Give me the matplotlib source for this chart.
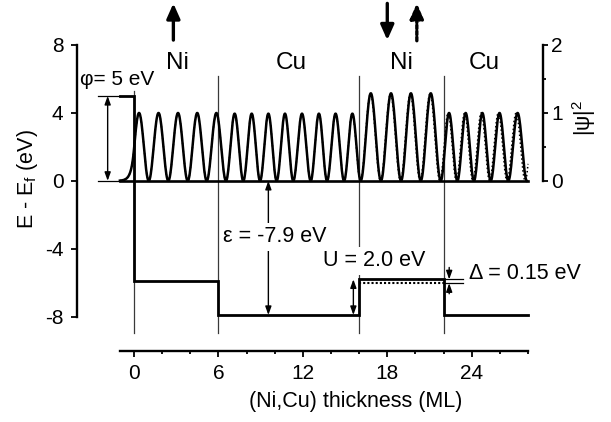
import numpy as np
import matplotlib
matplotlib.use('Agg')
import matplotlib.pyplot as plt
from matplotlib.patches import ArrowStyle

plt.rcParams['font.family'] = ['Liberation Sans', 'DejaVu Sans']
plt.rcParams['mathtext.default'] = 'regular'

# ---------------- data ----------------
layer_names = ['Ni', 'Cu', 'Ni', 'Cu']
layer_label_x = [3.1, 11.15, 19.0, 24.9]
interfaces = [0, 6, 16, 22]
interface_top = [5.3, 6.18, 6.18, 6.18]

# potential profile (thickness in ML, energy in eV)
pot_x = [-1, 0, 0, 6, 6, 16, 16, 22, 22, 28]
pot_E = [5.0, 5.0, -5.9, -5.9, -7.9, -7.9, -5.8, -5.8, -7.9, -7.9]
pot_dot_x = [16, 22]
pot_dot_E = [-6.03, -6.03]

# |psi|^2: first peak, nodes (ML) and lobe peak heights
psi_start = -1.0
psi_first_peak = 0.36
psi_nodes = [1.05, 2.44, 3.82, 5.17, 6.54, 7.77, 8.96, 10.14, 11.32, 12.56, 13.72,
             14.93, 16.11, 17.55, 18.98, 20.38, 21.80, 22.98, 24.16, 25.35, 26.60, 27.92]
psi_heights = [1.0, 1.0, 1.0, 1.0, 1.0, 0.99, 0.99, 0.99, 0.99, 0.99, 0.99, 0.99, 0.99,
               1.29, 1.29, 1.29, 1.29, 1.0, 1.0, 1.0, 1.0, 1.0]
psi_dot_nodes = [1.05, 2.44, 3.82, 5.17, 6.54, 7.77, 8.96, 10.14, 11.32, 12.56, 13.72,
                 14.93, 16.09, 17.52, 18.94, 20.33, 21.74, 22.91, 24.08, 25.27, 26.51, 27.80, 29.0]
psi_dot_heights = [1.0, 1.0, 1.0, 1.0, 1.0, 0.99, 0.99, 0.99, 0.99, 0.99, 0.99, 0.99, 0.99,
                   1.28, 1.28, 1.28, 1.28, 1.0, 1.0, 1.0, 1.0, 1.0, 1.0]
psi_end = 28.0

x_major = [0, 6, 12, 18, 24]
x_minor = [2, 4, 8, 10, 14, 16, 20, 22, 26, 28]
y_ticks = [-8, -4, 0, 4, 8]
y_ticklabels = ['-8', '-4', '0', '4', '8']
psi_ticks = [0, 1, 2]
psi_minor = [0.5, 1.5]

phi_value, eps_value, U_value, delta_value = 5.0, -7.9, 2.0, 0.15


def lobe_curve(first_peak, nodes, heights, x_end):
    a0 = 2 * first_peak - nodes[0]
    w0 = nodes[0] - a0
    th0 = np.pi * (0 - a0) / w0
    v0 = heights[0] * np.sin(th0) ** 2
    k = heights[0] * np.pi / w0 * np.sin(2 * th0) / v0
    xs = [np.linspace(psi_start, 0, 40)]
    ys = [v0 * np.exp(k * xs[0])]
    edges = [a0] + list(nodes)
    for i in range(len(nodes)):
        a, b = edges[i], edges[i + 1]
        lo = 0 if i == 0 else a
        hi = min(b, x_end)
        if hi <= lo:
            break
        x = np.linspace(lo, hi, 40)
        xs.append(x)
        ys.append(heights[i] * np.sin(np.pi * (x - a) / (b - a)) ** 2)
    return np.concatenate(xs), np.concatenate(ys)


W, H = 611, 422
fig = plt.figure(figsize=(W / 100, H / 100), dpi=100)
L, R, T, B = 76.7, 542.5, 45.0, 351.0
ax = fig.add_axes([L / W, 1 - B / H, (R - L) / W, (B - T) / H])
ax.set_xlim(-4.07, 29.03)
ax.set_ylim(-10.02, 8.0)
ax2 = ax.twinx()
ax2.set_ylim(-10.02 / 4, 2.0)

for a in (ax, ax2):
    a.patch.set_visible(False)
    for s in a.spines.values():
        s.set_visible(False)
ax.spines['left'].set_visible(True)
ax.spines['left'].set_bounds(-8, 8)
ax.spines['left'].set_linewidth(1.7)
ax.spines['bottom'].set_visible(True)
ax.spines['bottom'].set_bounds(-1, 28)
ax.spines['bottom'].set_linewidth(1.7)
ax2.spines['right'].set_visible(True)
ax2.spines['right'].set_bounds(0, 2)
ax2.spines['right'].set_linewidth(1.7)

ax.set_xticks(x_major)
ax.set_xticks(x_minor, minor=True)
ax.tick_params(axis='x', which='major', length=4.3, width=1.3, pad=5.0, labelsize=15)
ax.tick_params(axis='x', which='minor', length=2.2, width=1.3)
ax.set_yticks(y_ticks)
ax.set_yticklabels(y_ticklabels)
ax.tick_params(axis='y', which='major', length=4.0, width=1.3, pad=5.5, labelsize=15)
ax2.set_yticks(psi_ticks)
ax2.set_yticks(psi_minor, minor=True)
ax2.tick_params(axis='y', which='major', length=3.6, width=1.3, pad=2.5, labelsize=15)
ax2.tick_params(axis='y', which='minor', length=2.4, width=1.3)

# thin interface lines
for xi, top in zip(interfaces, interface_top):
    ax.plot([xi, xi], [top, -8.95], color='#3a3a3a', lw=0.9, zorder=1)

# guide lines for phi
ax.plot([-2.56, -1], [phi_value, phi_value], color='k', lw=0.9, zorder=2)
ax.plot([-2.56, -1], [0, 0], color='k', lw=0.9, zorder=2)
# baseline |psi|^2 = 0
ax.plot([-1, 28], [0, 0], color='k', lw=1.9, zorder=3)

# potential
ax.plot(pot_x, pot_E, color='k', lw=2.0, zorder=3, solid_joinstyle='miter')
ax.plot(pot_dot_x, pot_dot_E, color='k', lw=1.5, ls=(0, (1, 1)), zorder=3)

# delta guide lines
ax.plot([22, 23.38], [pot_E[6], pot_E[6]], color='k', lw=0.9, zorder=2)
ax.plot([22, 23.38], [pot_dot_E[0], pot_dot_E[0]], color='k', lw=0.9, zorder=2)

# wavefunctions
xs, ys = lobe_curve(psi_first_peak, psi_nodes, psi_heights, psi_end)
ax2.plot(xs, ys, color='k', lw=1.8, zorder=3)
xd, yd = lobe_curve(psi_first_peak, psi_dot_nodes, psi_dot_heights, psi_end)
ax2.plot(xd, yd, color='k', lw=1.1, ls=(0, (1, 1.6)), zorder=3)

# small arrows
small2 = ArrowStyle('<|-|>', head_length=0.5, head_width=0.18)
small1 = ArrowStyle('-|>', head_length=0.5, head_width=0.18)
def arrow(x0, y0, x1, y1, style):
    ax.annotate('', xy=(x1, y1), xytext=(x0, y0),
                arrowprops=dict(arrowstyle=style, color='k', lw=1.0, mutation_scale=10,
                                shrinkA=0, shrinkB=0), annotation_clip=False, zorder=3)

arrow(-1.87, 0, -1.87, phi_value, small2)
arrow(9.55, 0, 9.55, eps_value, small2)
arrow(15.59, -7.9, 15.59, -7.9 + U_value + 0.1, small2)
arrow(22.4, -5.1, 22.4, pot_E[6], small1)
arrow(22.4, -6.65, 22.4, pot_dot_E[0], small1)

# spin arrows at top
big = ArrowStyle('-|>', head_length=0.9, head_width=0.4)
def big_arrow(x, y0, y1, ls='-'):
    ax.annotate('', xy=(x, y1), xytext=(x, y0),
                arrowprops=dict(arrowstyle=big, color='k', lw=2.4, ls=ls, mutation_scale=10,
                                shrinkA=0, shrinkB=0), annotation_clip=False)

big_arrow(2.8, 8.29, 10.45)
big_arrow(18.0, 10.45, 8.29)
big_arrow(20.1, 8.25, 10.45, ls=(0, (1.1, 0.7)))

# texts
for name, xl in zip(layer_names, layer_label_x):
    ax.text(xl, 6.95, name, fontsize=17.5, ha='center', va='center')

ax.text(-3.84, 5.98, '\u03c6= %g eV' % phi_value, fontsize=15, ha='left', va='center')
ax.text(10.0, -3.3, '\u03b5 = %.1f eV' % eps_value, fontsize=15.5, ha='center', va='center',
        zorder=5, bbox=dict(fc='white', ec='none', pad=2.5))
ax.text(17.04, -4.7, 'U = %.1f eV' % U_value, fontsize=15.5, ha='center', va='center',
        zorder=5, bbox=dict(fc='white', ec='none', pad=2.5))
ax.text(23.81, -5.48, '\u0394 = %.2f eV' % delta_value, fontsize=15.5, ha='left', va='center')

fig.text(355.8 / W, 1 - 402 / H, '(Ni,Cu) thickness (ML)', fontsize=15.5, ha='center', va='center')
fig.text(28 / W, 1 - 179 / H, 'E - E$_f$ (eV)', fontsize=15.5, ha='center', va='center', rotation=90)
fig.text(584 / W, 1 - 118 / H, '|\u03c8|$^2$', fontsize=15.5, ha='center', va='center', rotation=90)

fig.savefig('out.png', dpi=100)
